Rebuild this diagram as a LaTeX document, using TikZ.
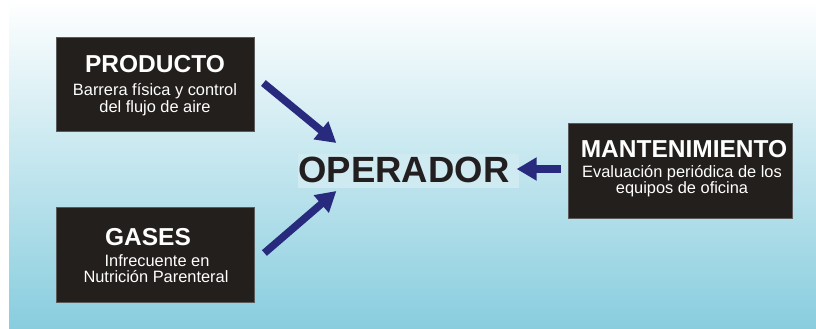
\documentclass[tikz,border=0pt]{standalone}
\usepackage{fontspec}
\setmainfont{Liberation Sans}
\usetikzlibrary{arrows.meta,calc}

\definecolor{boxfill}{RGB}{35,31,29}
\definecolor{boxedge}{RGB}{90,90,90}
\definecolor{arrowblue}{RGB}{40,42,125}
\definecolor{skybottom}{RGB}{136,205,222}
\definecolor{opink}{RGB}{35,31,32}
\definecolor{ophalo}{RGB}{207,234,241}

\tikzset{
  panel/.style={draw=boxedge, line width=0.8pt, fill=boxfill, inner sep=0pt},
  titletxt/.style={text=white, anchor=base, inner sep=0pt, font=\bfseries\fontsize{24.5}{28}\selectfont},
  subtxt/.style={text=white, anchor=base, inner sep=0pt, font=\fontsize{16.4}{19}\selectfont},
  optxt/.style={anchor=base, inner sep=0pt, text=opink, font=\bfseries\fontsize{36.5}{40}\selectfont},
  flow/.style={draw=arrowblue, line width=7.5pt,
    -{Triangle[length=20pt,width=22pt]}, arrowblue},
}

\begin{document}
\begin{tikzpicture}[x=1pt,y=-1pt]
\useasboundingbox (0,0) rectangle (816,329);

% sky backdrop with a thin white strip on the left
\fill[white] (0,0) rectangle (816,329);
\shade[top color=white, bottom color=skybottom] (9,0) rectangle (816,329);

% source boxes
\node[panel, minimum width=198pt, minimum height=94pt] (prod) at (155,84) {};
\node[panel, minimum width=198pt, minimum height=95pt] (gas) at (155,254.5) {};
\node[panel, minimum width=224pt, minimum height=95pt] (mant) at (680,170.5) {};

% box texts
\node[titletxt] (prodT) at (155,72) {PRODUCTO};
\node[subtxt] (prodA) at (155,95) {Barrera física y control};
\node[subtxt] (prodB) at (155,112) {del flujo de aire};

\node[titletxt] (gasT) at (148,245) {GASES};
\node[subtxt] (gasA) at (157,266) {Infrecuente en};
\node[subtxt] (gasB) at (156,282) {Nutrición Parenteral};

\node[titletxt] (mantT) at (684,157) {MANTENIMIENTO};
\node[subtxt] (mantA) at (682,177) {Evaluación periódica de los};
\node[subtxt] (mantB) at (682,193) {equipos de oficina};

% central label on its pale halo
\fill[ophalo] (298,154) rectangle (519,188);
\node[optxt] (op) at (404,182) {OPERADOR};

% arrow end points
\coordinate (s1) at ($(prod.east)+(9,-1)$);
\coordinate (t1) at ($(op.base west)+(38,-39)$);
\coordinate (s2) at ($(gas.east)+(10,-1.5)$);
\coordinate (t2) at ($(op.base west)+(38,9)$);
\coordinate (s3) at ($(mant.west)+(-7,-1.5)$);
\coordinate (t3) at ($(op.base east)+(7,-13)$);

\draw[flow] (s1) -- (t1);
\draw[flow] (s2) -- (t2);
\draw[flow, line width=8pt] (s3) -- (t3);
\end{tikzpicture}
\end{document}
